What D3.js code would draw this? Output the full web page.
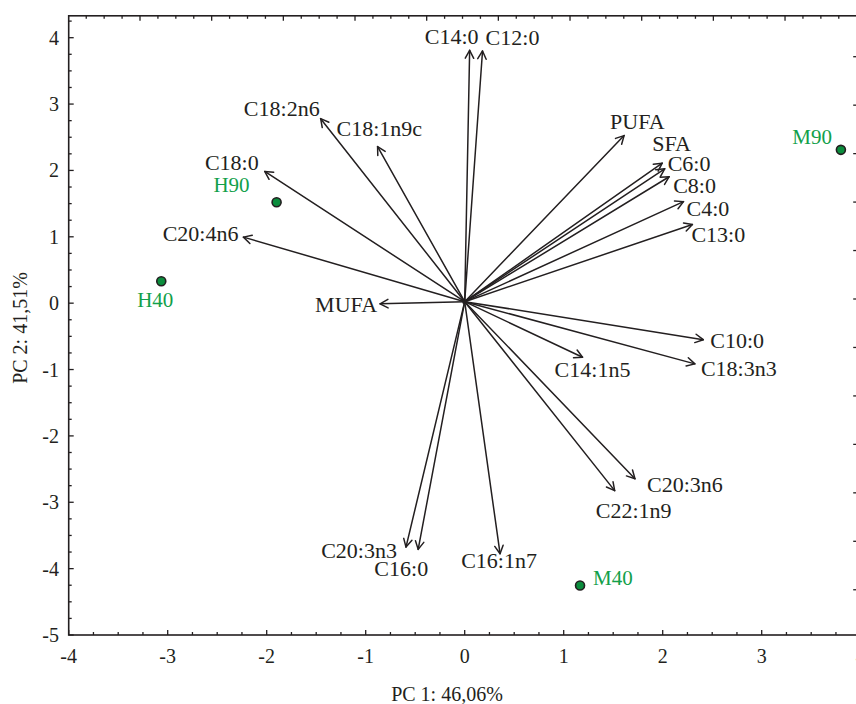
<!DOCTYPE html>
<html>
<head>
<meta charset="utf-8">
<script src="https://cdn.jsdelivr.net/npm/d3@7"></script>
<style>
  html, body { margin: 0; padding: 0; background: #fff; }
  svg { display: block; }
  text { font-family: "Liberation Serif", "Times New Roman", serif; }
</style>
</head>
<body>
<svg id="chart" width="856" height="704"></svg>
<script>
// ---------- DATA ----------
const variables = ["C14:0","C12:0","C18:2n6","C18:1n9c","C18:0","C20:4n6","MUFA","PUFA","SFA","C6:0","C8:0","C4:0","C13:0","C10:0","C18:3n3","C14:1n5","C20:3n6","C22:1n9","C16:1n7","C20:3n3","C16:0"];
const loadPC1 = [0.05, 0.18, -1.455, -0.88, -2.02, -2.235, -0.855, 1.61, 1.995, 2.02, 2.065, 2.21, 2.3, 2.41, 2.325, 1.19, 1.72, 1.515, 0.357, -0.593, -0.47];
const loadPC2 = [3.81, 3.80, 2.78, 2.36, 1.985, 0.995, -0.01, 2.525, 2.11, 2.025, 1.905, 1.53, 1.185, -0.55, -0.915, -0.815, -2.645, -2.825, -3.775, -3.675, -3.71];

const samples = ["H90","H40","M90","M40"];
const scorePC1 = [-1.9, -3.065, 3.8, 1.165];
const scorePC2 = [1.52, 0.33, 2.31, -4.255];

const xTicks = [-4,-3,-2,-1,0,1,2,3,4];
const yTicks = [-5,-4,-3,-2,-1,0,1,2,3,4];
const xTitle = "PC 1: 46,06%";
const yTitle = "PC 2: 41,51%";

// ---------- LAYOUT (label placement, pixels relative to mark) ----------
const varLabelLayout = {
  "C14:0":   {dx:-18,  dy:-6,  anchor:"middle"},
  "C12:0":   {dx:30,   dy:-6,  anchor:"middle"},
  "C18:2n6": {dx:-1,   dy:-3,  anchor:"end"},
  "C18:1n9c":{dx:-41,  dy:-11, anchor:"start"},
  "C18:0":   {dx:-6,   dy:-1,  anchor:"end"},
  "C20:4n6": {dx:-5,   dy:4,   anchor:"end"},
  "MUFA":    {dx:-3,   dy:8,   anchor:"end"},
  "PUFA":    {dx:-14,  dy:-7,  anchor:"start"},
  "SFA":     {dx:-10,  dy:-12, anchor:"start"},
  "C6:0":    {dx:3,    dy:2,   anchor:"start"},
  "C8:0":    {dx:4,    dy:16,  anchor:"start"},
  "C4:0":    {dx:3,    dy:14,  anchor:"start"},
  "C13:0":   {dx:-1,   dy:17,  anchor:"start"},
  "C10:0":   {dx:7,    dy:8,   anchor:"start"},
  "C18:3n3": {dx:6,    dy:12,  anchor:"start"},
  "C14:1n5": {dx:10,   dy:20,  anchor:"middle"},
  "C20:3n6": {dx:12,   dy:13,  anchor:"start"},
  "C22:1n9": {dx:19,   dy:27,  anchor:"middle"},
  "C16:1n7": {dx:-1,   dy:14,  anchor:"middle"},
  "C20:3n3": {dx:-9,   dy:11,  anchor:"end"},
  "C16:0":   {dx:10,   dy:27,  anchor:"end"}
};
const sampleLabelLayout = {
  "H90": {dx:-27, dy:-10, anchor:"end"},
  "H40": {dx:-6,  dy:26,  anchor:"middle"},
  "M90": {dx:-9,  dy:-6,  anchor:"end"},
  "M40": {dx:13,  dy:-1,  anchor:"start"}
};

// ---------- DRAW ----------
const svg = d3.select("#chart");
const ink = "#231f20";
const green = "#12a04a";
const FONT = "'Liberation Serif', 'Times New Roman', serif";

const x = d3.scaleLinear().domain([-4, 4]).range([68.7, 860.7]);
const y = d3.scaleLinear().domain([-5, 4]).range([635, 37.7]);
const yTopVal = 4.33;
const x0 = x(-4), x1 = x(4), yB = y(-5), yT = y(yTopVal);

// secondary (loading) scales on top / right axes
const xTop = d3.scaleLinear().domain([-1, 1]).range([140, 856.7]);
const yRight = d3.scaleLinear().domain([0, 0.5]).range([299, 56.7]);

const g = svg.append("g");

// frame
g.append("rect").attr("x", x0).attr("y", yT).attr("width", x1 - x0).attr("height", yB - yT)
  .attr("fill", "none").attr("stroke", ink).attr("stroke-width", 1.6);

const isInt = d => Math.abs(d - Math.round(d)) < 1e-6;
// bottom ticks (inward)
const xMinor = d3.range(-4, 4.001, 0.25);
g.append("g").selectAll("line").data(xMinor).join("line")
  .attr("x1", d => x(d)).attr("x2", d => x(d))
  .attr("y1", yB).attr("y2", d => yB - (isInt(d) ? 5 : 3))
  .attr("stroke", ink).attr("stroke-width", 1.3);
// left ticks
const yMinor = d3.range(-5, 4.3, 0.25);
g.append("g").selectAll("line").data(yMinor).join("line")
  .attr("y1", d => y(d)).attr("y2", d => y(d))
  .attr("x1", x0).attr("x2", d => x0 + (isInt(d) ? 5 : 3))
  .attr("stroke", ink).attr("stroke-width", 1.3);
// top ticks
const topMinor = d3.range(-1.2, 1.01, 0.05).filter(v => xTop(v) > x0 + 1 && xTop(v) < x1 - 1);
g.append("g").selectAll("line").data(topMinor).join("line")
  .attr("x1", d => xTop(d)).attr("x2", d => xTop(d))
  .attr("y1", yT).attr("y2", d => yT + (isInt(d * 5) ? 5 : 3))
  .attr("stroke", ink).attr("stroke-width", 1.3);
// right ticks
const rightMinor = d3.range(-0.6, 0.56, 0.1).filter(v => yRight(v) > yT + 1 && yRight(v) < yB - 1);
g.append("g").selectAll("line").data(rightMinor).join("line")
  .attr("y1", d => yRight(d)).attr("y2", d => yRight(d))
  .attr("x1", x1).attr("x2", x1 - 7.5)
  .attr("stroke", ink).attr("stroke-width", 1.3);

// tick labels
g.append("g").selectAll("text").data(xTicks).join("text")
  .attr("x", d => x(d)).attr("y", 663)
  .attr("text-anchor", "middle").attr("font-family", FONT).attr("font-size", 20).attr("fill", ink)
  .text(d => d);
g.append("g").selectAll("text").data(yTicks).join("text")
  .attr("x", 59).attr("y", d => y(d) + 7)
  .attr("text-anchor", "end").attr("font-family", FONT).attr("font-size", 20).attr("fill", ink)
  .text(d => d);

// axis titles
g.append("text").attr("x", 447).attr("y", 701).attr("text-anchor", "middle")
  .attr("font-family", FONT).attr("font-size", 20).attr("fill", ink).text(xTitle);
g.append("text").attr("transform", "translate(27,328) rotate(-90)").attr("text-anchor", "middle")
  .attr("font-family", FONT).attr("font-size", 20).attr("fill", ink).text(yTitle);

// arrows
const vars = variables.map((n, i) => ({name: n, px: loadPC1[i], py: loadPC2[i]}));
const ox = x(0), oy = y(0) - 1.5;
const ag = g.append("g").attr("stroke", ink).attr("stroke-width", 1.5).attr("fill", "none")
  .attr("stroke-linecap", "round").attr("stroke-linejoin", "round");
vars.forEach(v => {
  const tx = x(v.px), ty = y(v.py);
  const ang = Math.atan2(ty - oy, tx - ox);
  const L = 9, a = 28 * Math.PI / 180;
  const h1 = [tx - L * Math.cos(ang - a), ty - L * Math.sin(ang - a)];
  const h2 = [tx - L * Math.cos(ang + a), ty - L * Math.sin(ang + a)];
  ag.append("line").attr("x1", ox).attr("y1", oy).attr("x2", tx).attr("y2", ty);
  ag.append("path").attr("d", `M${h1[0]},${h1[1]}L${tx},${ty}L${h2[0]},${h2[1]}`);
});
g.append("circle").attr("cx", ox).attr("cy", oy).attr("r", 2.5).attr("fill", ink);

// variable labels
g.append("g").selectAll("text").data(vars).join("text")
  .attr("x", d => x(d.px) + varLabelLayout[d.name].dx)
  .attr("y", d => y(d.py) + varLabelLayout[d.name].dy)
  .attr("text-anchor", d => varLabelLayout[d.name].anchor)
  .attr("font-family", FONT).attr("font-size", 22).attr("fill", ink)
  .text(d => d.name);

// sample points
const pts = samples.map((n, i) => ({name: n, px: scorePC1[i], py: scorePC2[i]}));
g.append("g").selectAll("circle").data(pts).join("circle")
  .attr("cx", d => x(d.px)).attr("cy", d => y(d.py)).attr("r", 4.5)
  .attr("fill", "#0b8d3d").attr("stroke", ink).attr("stroke-width", 1.6);
g.append("g").selectAll("text").data(pts).join("text")
  .attr("x", d => x(d.px) + sampleLabelLayout[d.name].dx)
  .attr("y", d => y(d.py) + sampleLabelLayout[d.name].dy)
  .attr("text-anchor", d => sampleLabelLayout[d.name].anchor)
  .attr("font-family", FONT).attr("font-size", 21).attr("fill", green)
  .text(d => d.name);
</script>
</body>
</html>
